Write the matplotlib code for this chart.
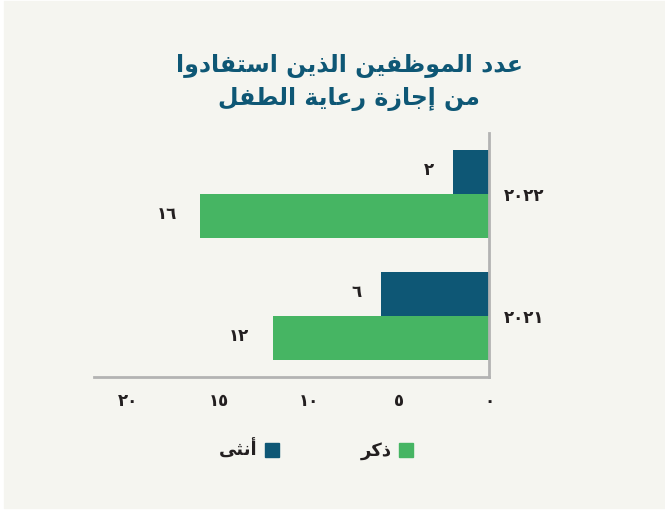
import matplotlib.pyplot as plt
from matplotlib.patches import Rectangle, Patch

# Data #
years = ['٢٠٢١', '٢٠٢٢']
female = [6, 2]
male = [12, 16]
ar_digits = '٠١٢٣٤٥٦٧٨٩'
xticks = [0, 5, 10, 15, 20]

title_lines = ['عدد الموظفين الذين استفادوا', 'من إجازة رعاية الطفل']
lbl_female = 'أنثى'
lbl_male = 'ذكر'

blue = '#0e5775'
green = '#46b563'
ink = '#231f20'
bg = '#f5f5f0'

# Simple Arabic shaping (presentation forms) since matplotlib does no shaping #
forms = {
    'ء': (0xFE80, None, None, None), 'آ': (0xFE81, 0xFE82, None, None),
    'أ': (0xFE83, 0xFE84, None, None), 'ؤ': (0xFE85, 0xFE86, None, None),
    'إ': (0xFE87, 0xFE88, None, None), 'ئ': (0xFE89, 0xFE8A, 0xFE8B, 0xFE8C),
    'ا': (0xFE8D, 0xFE8E, None, None), 'ب': (0xFE8F, 0xFE90, 0xFE91, 0xFE92),
    'ة': (0xFE93, 0xFE94, None, None), 'ت': (0xFE95, 0xFE96, 0xFE97, 0xFE98),
    'ث': (0xFE99, 0xFE9A, 0xFE9B, 0xFE9C), 'ج': (0xFE9D, 0xFE9E, 0xFE9F, 0xFEA0),
    'ح': (0xFEA1, 0xFEA2, 0xFEA3, 0xFEA4), 'خ': (0xFEA5, 0xFEA6, 0xFEA7, 0xFEA8),
    'د': (0xFEA9, 0xFEAA, None, None), 'ذ': (0xFEAB, 0xFEAC, None, None),
    'ر': (0xFEAD, 0xFEAE, None, None), 'ز': (0xFEAF, 0xFEB0, None, None),
    'س': (0xFEB1, 0xFEB2, 0xFEB3, 0xFEB4), 'ش': (0xFEB5, 0xFEB6, 0xFEB7, 0xFEB8),
    'ص': (0xFEB9, 0xFEBA, 0xFEBB, 0xFEBC), 'ض': (0xFEBD, 0xFEBE, 0xFEBF, 0xFEC0),
    'ط': (0xFEC1, 0xFEC2, 0xFEC3, 0xFEC4), 'ظ': (0xFEC5, 0xFEC6, 0xFEC7, 0xFEC8),
    'ع': (0xFEC9, 0xFECA, 0xFECB, 0xFECC), 'غ': (0xFECD, 0xFECE, 0xFECF, 0xFED0),
    'ف': (0xFED1, 0xFED2, 0xFED3, 0xFED4), 'ق': (0xFED5, 0xFED6, 0xFED7, 0xFED8),
    'ك': (0xFED9, 0xFEDA, 0xFEDB, 0xFEDC), 'ل': (0xFEDD, 0xFEDE, 0xFEDF, 0xFEE0),
    'م': (0xFEE1, 0xFEE2, 0xFEE3, 0xFEE4), 'ن': (0xFEE5, 0xFEE6, 0xFEE7, 0xFEE8),
    'ه': (0xFEE9, 0xFEEA, 0xFEEB, 0xFEEC), 'و': (0xFEED, 0xFEEE, None, None),
    'ى': (0xFEEF, 0xFEF0, None, None), 'ي': (0xFEF1, 0xFEF2, 0xFEF3, 0xFEF4),
}


def joins_next(c):
    return c in forms and forms[c][2] is not None


def shape(text):
    out = []
    for i, c in enumerate(text):
        if c not in forms:
            out.append(c)
            continue
        prev = text[i - 1] if i > 0 else ''
        nxt = text[i + 1] if i + 1 < len(text) else ''
        p = joins_next(prev)
        n = joins_next(c) and nxt in forms
        iso, fin, ini, med = forms[c]
        if p and n:
            code = med
        elif p:
            code = fin if fin else iso
        elif n:
            code = ini
        else:
            code = iso
        out.append(chr(code))
    return ''.join(out)[::-1]


def ar_num(v):
    return ''.join(ar_digits[int(d)] for d in str(v))


plt.rcParams['font.family'] = ['DejaVu Sans']

fig = plt.figure(figsize=(6.65, 5.11), dpi=100)
fig.patch.set_facecolor('white')
fig.patches.append(Rectangle((4 / 665, 3 / 511), 661 / 665, 507 / 511,
                             transform=fig.transFigure, color=bg, zorder=-1))

ax = fig.add_axes([94 / 665, 1 - 377 / 511, 395 / 665, 244 / 511])
ax.set_facecolor(bg)

h = 0.36
pos = list(range(len(years)))
ax.barh([p + h / 2 for p in pos], female, height=h, color=blue)
ax.barh([p - h / 2 for p in pos], male, height=h, color=green)

# value labels sit to the left of the bar end (axis is reversed)
for p, f, m in zip(pos, female, male):
    ax.annotate(ar_num(f), (f, p + h / 2), xytext=(-24, 2), textcoords='offset pixels',
                ha='center', va='center', fontsize=12, fontweight='bold', color=ink)
    ax.annotate(ar_num(m), (m, p - h / 2), xytext=(-34, 2), textcoords='offset pixels',
                ha='center', va='center', fontsize=12, fontweight='bold', color=ink)

ax.set_xlim(21.9, 0)
ax.set_ylim(-0.5, 1.5)
ax.set_xticks(xticks)
ax.set_xticklabels([ar_num(t) for t in xticks], fontsize=12, fontweight='bold', color=ink)
ax.set_yticks(pos)
ax.set_yticklabels(years, fontsize=12, fontweight='bold', color=ink)
ax.yaxis.tick_right()
ax.tick_params(axis='x', length=0, pad=11)
ax.tick_params(axis='y', length=0, pad=11)
for s in ['top', 'left']:
    ax.spines[s].set_visible(False)
for s in ['bottom', 'right']:
    ax.spines[s].set_color('#b3b3b3')
    ax.spines[s].set_linewidth(2)

fig.text(349 / 665, 1 - 66 / 511, shape(title_lines[0]), ha='center', va='center',
         fontsize=17, fontweight='bold', color=blue)
fig.text(349 / 665, 1 - 99 / 511, shape(title_lines[1]), ha='center', va='center',
         fontsize=17, fontweight='bold', color=blue)

handles = [Patch(color=blue, label=shape(lbl_female)), Patch(color=green, label=shape(lbl_male))]
leg = fig.legend(handles=handles, loc='center', bbox_to_anchor=(316 / 665, 1 - 450 / 511),
                 ncol=2, frameon=False, markerfirst=False, handlelength=0.8, handleheight=0.8,
                 columnspacing=4.5, handletextpad=0.4,
                 prop={'size': 13, 'weight': 'bold'})
for t in leg.get_texts():
    t.set_color(ink)

fig.savefig('out.png', dpi=100, facecolor=fig.get_facecolor())
